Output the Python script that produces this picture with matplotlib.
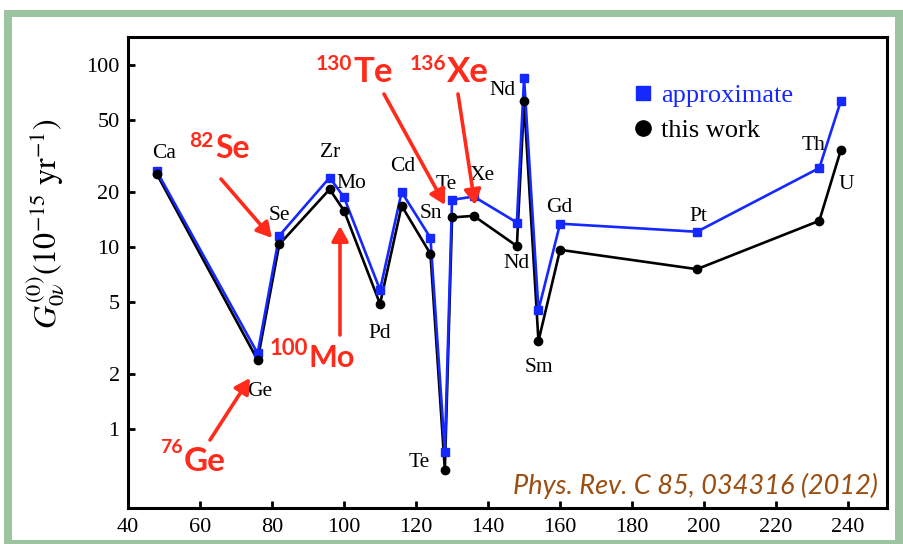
import matplotlib
matplotlib.use("Agg")
import matplotlib.pyplot as plt
from matplotlib.patches import Rectangle, FancyArrowPatch
from matplotlib.lines import Line2D

# ---------------- data ----------------
mass_number = [48, 76, 82, 96, 100, 110, 116, 124, 128, 130, 136, 148, 150, 154, 160, 198, 232, 238]
elements = ['Ca', 'Ge', 'Se', 'Zr', 'Mo', 'Pd', 'Cd', 'Sn', 'Te', 'Te', 'Xe', 'Nd', 'Nd', 'Sm', 'Gd', 'Pt', 'Th', 'U']
approximate = [26.0, 2.6, 11.5, 24.0, 18.7, 5.8, 20.0, 11.2, 0.75, 18.1, 18.9, 13.6, 84.5, 4.5, 13.4, 12.1, 27.1, 63.4]
this_work = [25.1, 2.39, 10.3, 20.7, 15.8, 4.86, 16.8, 9.15, 0.595, 14.5, 14.8, 10.1, 62.9, 3.04, 9.63, 7.54, 13.9, 34.1]
x_ticks = [40, 60, 80, 100, 120, 140, 160, 180, 200, 220, 240]
y_ticks = [1, 2, 5, 10, 20, 50, 100]
y_tick_labels = ['1', '2', '5', '10', '20', '50', '100']

# label offsets (pixels) relative to "this work" points
label_offsets = [(7, 21), (2, -31), (0, 29), (0, 37), (7, 27), (0, -30), (1, 39), (0, 40),
                 (-26, 8), (-6, 33), (8, 40), (0, -17), (-22, 11), (0, -26), (-1, 42),
                 (1, 53), (-6, 75), (5, -35)]

W, H = 904, 544
plt.rcParams['mathtext.fontset'] = 'stix'
SERIF = 'Liberation Serif'
fig = plt.figure(figsize=(W / 100, H / 100), dpi=100, facecolor='white')

# green frame
green = '#9cc4a0'
fig.add_artist(Rectangle((4 / W, 0), (W - 4) / W, (H - 10) / H, transform=fig.transFigure,
                         facecolor=green, edgecolor='none', zorder=-2))
fig.add_artist(Rectangle((12 / W, (H - 540) / H), (895 - 12) / W, (540 - 17) / H,
                         transform=fig.transFigure, facecolor='white', edgecolor='none', zorder=-1))

ax = fig.add_axes([128 / W, 1 - 508 / H, (887 - 128) / W, (508 - 37) / H])
ax.set_facecolor('none')
ax.set_yscale('log')
ax.set_xlim(40, 250.8)
ax.set_ylim(0.368, 142)

blue = '#1428ff'
ax.plot(mass_number, this_work, color='black', lw=1.9, zorder=2)
ax.plot(mass_number, approximate, color=blue, lw=1.9, zorder=3)
ax.plot(mass_number, approximate, ls='none', marker='s', ms=5.5, color=blue, zorder=4)
ax.plot(mass_number, this_work, ls='none', marker='o', ms=6, color='black', zorder=5)

for x, y, name, (dx, dy) in zip(mass_number, this_work, elements, label_offsets):
    ax.annotate(name, xy=(x, y), xytext=(dx, dy), textcoords='offset pixels',
                ha='center', va='center', fontsize=15.5, family=SERIF, zorder=6)

ax.set_xticks(x_ticks)
ax.set_xticklabels([str(t) for t in x_ticks])
ax.set_yticks(y_ticks)
ax.set_yticklabels(y_tick_labels)
ax.yaxis.set_minor_locator(matplotlib.ticker.NullLocator())
ax.tick_params(direction='in', length=5, width=2, labelsize=16, pad=7)
ax.tick_params(axis='y', pad=6)
for lab in ax.get_xticklabels() + ax.get_yticklabels():
    lab.set_family(SERIF)
for sp in ax.spines.values():
    sp.set_linewidth(2.2)

fig.text(45 / W, 1 - 224 / H, r'$G^{(0)}_{0\nu}(10^{-15}\ \mathrm{yr}^{-1})$',
         rotation=90, ha='center', va='center', fontsize=23)

# legend
handles = [Line2D([], [], ls='none', marker='s', color=blue, ms=10),
           Line2D([], [], ls='none', marker='o', color='black', ms=11)]
leg = ax.legend(handles, ['approximate', 'this work'], loc='upper left',
                bbox_to_anchor=(633 / W, 1 - 84 / H), bbox_transform=fig.transFigure,
                frameon=False,
                prop={'family': SERIF, 'size': 19}, handlelength=0.75, handletextpad=0.3,
                labelspacing=0.42, borderpad=0, borderaxespad=0)
leg.get_texts()[0].set_color(blue)

# red annotations
red = '#ff2a1a'
RF = 'Lato'
notes = [  # (superscript, symbol, junction x, sup baseline y, symbol baseline y, sup size, symbol size)
    ('82', 'Se', 214, 147, 158, 15, 23),
    ('100', 'Mo', 308, 355, 367, 16, 22),
    ('76', 'Ge', 182.5, 453, 471, 14, 24),
    ('130', 'Te', 352, 70, 82, 15, 25),
    ('136', 'Xe', 446, 70, 82, 15, 25),
]
for sup, sym, xj, ys, yb, fs_sup, fs_sym in notes:
    fig.text(xj / W, 1 - ys / H, sup, ha='right', va='baseline', color=red,
             family=RF, weight='bold', fontsize=fs_sup)
    fig.text((xj + 1) / W, 1 - yb / H, sym, ha='left', va='baseline', color=red,
             family=RF, weight='bold', fontsize=fs_sym)

arrows = [((221, 179), (272, 238)), ((340, 335), (340, 226)), ((210, 440), (250, 378)),
          ((384, 94), (445, 205)), ((458, 94), (475, 205))]
for (x0, y0), (x1, y1) in arrows:
    arr = FancyArrowPatch((x0 / W, 1 - y0 / H), (x1 / W, 1 - y1 / H), transform=fig.transFigure,
                          arrowstyle='-|>,head_length=9,head_width=5', mutation_scale=1,
                          color=red, lw=2.6, shrinkA=0, shrinkB=0, zorder=7)
    fig.add_artist(arr)

fig.text(878 / W, 1 - 494 / H, 'Phys. Rev. C 85, 034316 (2012)', ha='right', va='baseline',
         color='#9c4d10', family='Lato', style='italic', fontsize=19.5)

fig.savefig('out.png', dpi=100, facecolor='white')
